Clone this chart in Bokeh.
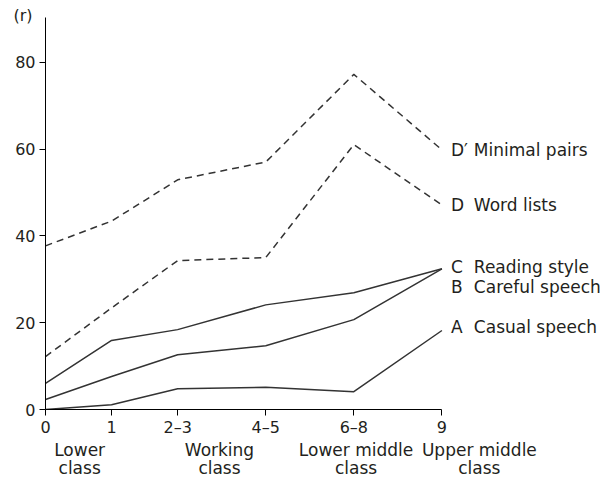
from bokeh.plotting import figure
from bokeh.models import LinearAxis, FixedTicker, Range1d, ColumnDataSource, Title
from bokeh.core.properties import value
from bokeh.embed import file_html
from bokeh.resources import INLINE

# x positions of the class groups (uneven spacing as in the original)
x_pos = [0, 3, 6, 10, 14, 18]
x_ticks = ["0", "1", "2\u20133", "4\u20135", "6\u20138", "9"]

minimal_pairs = [37.7, 43.4, 52.9, 57.0, 77.2, 59.8]
word_lists = [12.2, 23.4, 34.3, 35.0, 61.0, 47.1]
reading_style = [6.0, 15.9, 18.4, 24.1, 26.9, 32.4]
careful_speech = [2.3, 7.6, 12.6, 14.7, 20.7, 32.4]
casual_speech = [0.0, 1.1, 4.8, 5.1, 4.1, 18.2]

series_letters = ["D\u2032", "D", "C", "B", "A"]
series_names = ["Minimal pairs", "Word lists", "Reading style", "Careful speech", "Casual speech"]
label_y = [59.8, 47.1, 32.9, 28.3, 18.9]

class_pos = [1.55, 7.9, 14.1, 19.7]
class_labels = ["Lower\nclass", "Working\nclass", "Lower middle\nclass", "Upper middle\nclass"]

FONT = "DejaVu Sans"
FS = "16px"
FS_W = "17px"
TXT = "#231f20"
LINE = "#333333"
YTOP = 90.3

p = figure(width=600, height=480, output_backend="svg", toolbar_location=None,
           x_range=Range1d(0, 25.2), y_range=Range1d(0, YTOP),
           x_axis_type=None, y_axis_type=None,
           min_border_left=45, min_border_top=17, min_border_bottom=60, min_border_right=0)
p.outline_line_color = None
p.grid.visible = False
p.background_fill_color = "white"

p.add_layout(Title(text="(r)", align="left", offset=-32, standoff=-15, vertical_align="bottom",
                   text_font=FONT, text_font_size=FS, text_font_style="normal",
                   text_color=TXT), "above")

# y axis
ya = LinearAxis(ticker=FixedTicker(ticks=[0, 20, 40, 60, 80]), bounds=(0, YTOP))
ya.major_label_text_font = FONT
ya.major_label_text_font_size = FS
ya.major_label_text_color = TXT
ya.major_tick_out = 6
ya.major_tick_in = 0
ya.minor_tick_out = 0
ya.minor_tick_in = 0
ya.axis_line_color = "black"
ya.major_tick_line_color = "black"
ya.major_label_standoff = 4
p.add_layout(ya, "left")

# x axis
xa = LinearAxis(ticker=FixedTicker(ticks=x_pos), bounds=(0, 18))
xa.major_label_overrides = {x: t for x, t in zip(x_pos, x_ticks)}
xa.major_label_text_font = FONT
xa.major_label_text_font_size = FS
xa.major_label_text_color = TXT
xa.major_tick_out = 6
xa.major_tick_in = 0
xa.minor_tick_out = 0
xa.minor_tick_in = 0
xa.axis_line_color = "black"
xa.major_tick_line_color = "black"
xa.major_label_standoff = 2
p.add_layout(xa, "below")

# class axis
ca = LinearAxis(ticker=FixedTicker(ticks=class_pos))
ca.major_label_overrides = {x: t for x, t in zip(class_pos, class_labels)}
ca.major_label_text_font = FONT
ca.major_label_text_font_size = FS_W
ca.major_label_text_color = TXT
ca.major_label_text_line_height = 0.9
ca.axis_line_color = None
ca.major_tick_line_color = None
ca.minor_tick_line_color = None
ca.major_tick_out = 0
ca.major_tick_in = 0
ca.minor_tick_out = 0
ca.minor_tick_in = 0
ca.major_label_standoff = 0
p.add_layout(ca, "below")

for ys, dash in [(minimal_pairs, "7 5"), (word_lists, "7 5"), (reading_style, "solid"),
                 (careful_speech, "solid"), (casual_speech, "solid")]:
    p.line(x_pos, ys, line_color=LINE, line_width=1.5, line_dash=dash)

src = ColumnDataSource(dict(lx=[18.41] * 5, nx=[19.45] * 5, y=label_y,
                            letter=series_letters, name=series_names))
p.text(x="lx", y="y", text="letter", source=src, text_font=value(FONT), text_font_size=FS_W,
       text_color=TXT, text_baseline="middle", text_align="left")
p.text(x="nx", y="y", text="name", source=src, text_font=value(FONT), text_font_size=FS_W,
       text_color=TXT, text_baseline="middle", text_align="left")

open("out.html", "w").write(file_html(p, INLINE))
